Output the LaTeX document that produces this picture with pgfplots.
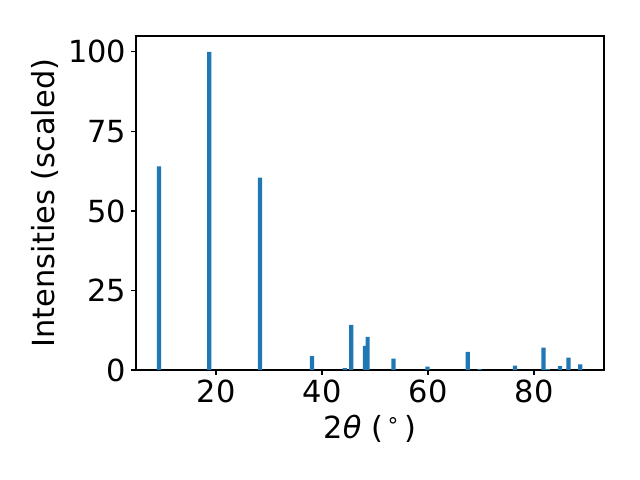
\documentclass[border=0pt]{standalone}
\usepackage{fontspec}
\setmainfont{DejaVu Sans}
\usepackage{pgfplots}
\pgfplotsset{compat=1.18}
\definecolor{tabblue}{HTML}{1F77B4}
\begin{document}
\begin{tikzpicture}
\useasboundingbox (0,0) rectangle (6.4in,4.8in);
\begin{axis}[
  at={(1.36in,1.10in)}, anchor=south west,
  width=4.68in, height=3.34in, scale only axis,
  xmin=4.9, xmax=93.2, ymin=0, ymax=105,
  axis line style={line width=0.8pt},
  tick style={line width=0.8pt, black},
  tick align=outside, major tick length=3.5pt,
  xtick={20,40,60,80}, ytick={0,25,50,75,100},
  xtick pos=bottom, ytick pos=left,
  /pgf/number format/assume math mode=true,
  tick label style={font=\fontsize{22}{26}\selectfont},
  label style={font=\fontsize{22}{26}\selectfont},
  xlabel={2\textit{θ} (\kern2.5pt\textsuperscript{∘}\kern3pt)},
  xlabel style={yshift=-2pt},
  ylabel={Intensities (scaled)},
  scaled ticks=false,
]
\addplot[ybar, bar width=0.8, fill=tabblue, draw=none] coordinates {
(9.25,64.0) (18.7,100.0) (28.3,60.5) (38.1,4.4) (44.3,0.6) (45.5,14.2)
(48.1,7.6) (48.6,10.4) (53.5,3.6) (59.9,1.1) (67.5,5.7) (69.7,0.3)
(76.4,1.4) (81.8,7.0) (82.6,0.3) (84.9,1.2) (86.5,3.9) (88.7,1.8)
};
\end{axis}
\end{tikzpicture}
\end{document}
